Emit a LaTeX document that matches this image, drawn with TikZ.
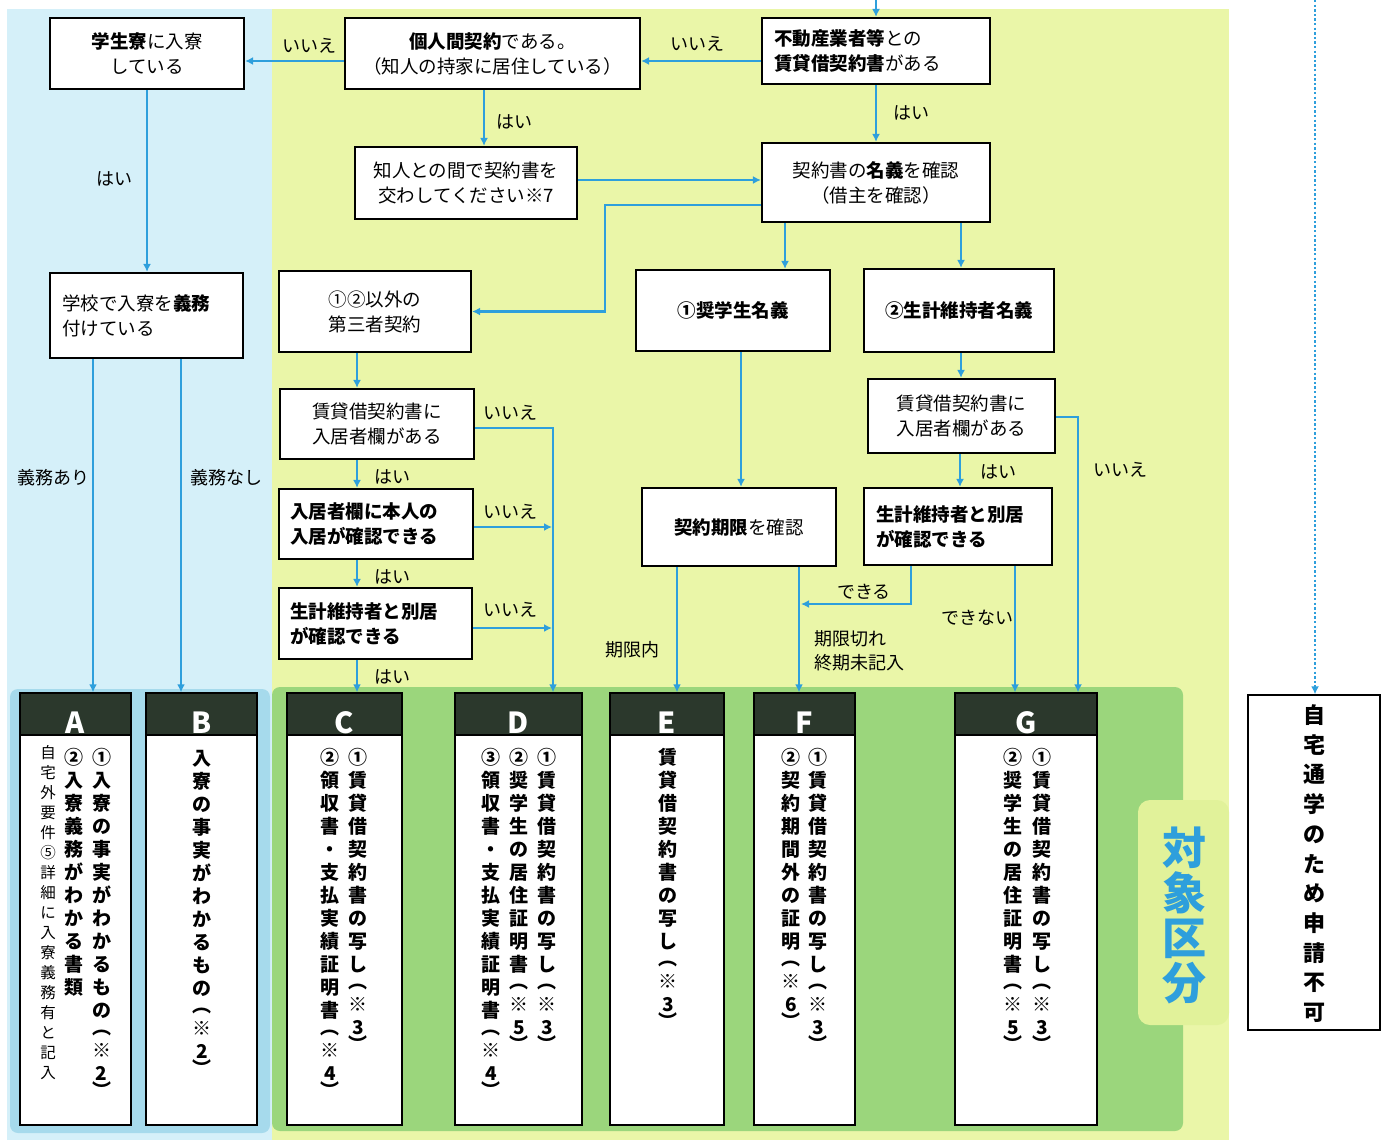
\documentclass[tikz,border=0pt]{standalone}
\usepackage{fontspec}
\setmainfont{Noto Sans CJK JP}
\usetikzlibrary{arrows.meta}
\definecolor{bgblue}{HTML}{D5F0F9}
\definecolor{bgbluedk}{HTML}{A6DAEC}
\definecolor{bgyellow}{HTML}{EAF6A8}
\definecolor{bggreen}{HTML}{9BD67C}
\definecolor{lblyel}{HTML}{E1F29A}
\definecolor{arrowblue}{HTML}{2E9FDC}
\definecolor{hdr}{HTML}{2B382C}
% vertical text
\def\vtx#1#2{\vtop{\baselineskip=#1\lineskiplimit=-1000pt\lineskip=0pt\relax\vtxloop#2\relax}}
\def\vtxloop#1{\ifx\relax#1\else\vtxchar{#1}\expandafter\vtxloop\fi}
\def\vtxchar#1{\ifx#1︵\vskip-6pt\relax\fi\ifx#1︶\vskip-6pt\relax\fi\hbox to 1.2em{\hss#1\hss}}
\tikzset{
  flow/.style={draw=black, line width=2.2pt, fill=white, inner ysep=0pt, inner xsep=12pt, font=\fontsize{18.5}{25}\selectfont},
  bflow/.style={flow, font=\bfseries\fontsize{18.5}{25}\selectfont},
  arr/.style={draw=arrowblue, line width=2.4pt, -{Latex[length=8pt,width=8pt]}},
  dotarr/.style={draw=arrowblue, line width=2.4pt, dash pattern=on 2.4pt off 2.2pt, -{Latex[length=8pt,width=8pt]}},
  lbl/.style={font=\fontsize{18}{24}\selectfont, inner sep=0pt},
  hdrbox/.style={draw=black, line width=1.4pt, fill=hdr, inner sep=0pt},
  bodybox/.style={draw=black, line width=1.4pt, fill=white, inner sep=0pt},
  hletter/.style={text=white, font=\bfseries\fontsize{29}{29}\selectfont, anchor=base, inner sep=0pt},
  vcol/.style={inner sep=0pt, anchor=base, font=\bfseries\fontsize{19}{19}\selectfont},
}
\begin{document}
\begin{tikzpicture}[x=1pt,y=-1pt]
\useasboundingbox (0,0) rectangle (1389,1140);
% backgrounds
\fill[white] (0,0) rectangle (1389,1140);
\fill[bgblue] (7,9) rectangle (272,1140);
\fill[bgyellow] (272,9) rectangle (1229,1140);
\fill[bgbluedk, rounded corners=8pt] (10,689) rectangle (270,1133);
\fill[bggreen, rounded corners=8pt] (272,687) rectangle (1183,1131);
\fill[lblyel, rounded corners=12pt] (1138,800) rectangle (1229,1025);

% flow boxes
\node[flow, minimum width=194pt, minimum height=71pt, text width=170pt, align=center] (N1) at (147,53.5) {{\bfseries 学生寮}に入寮\\している};
\node[flow, minimum width=295pt, minimum height=71pt, text width=271pt, align=center] (N2) at (492.5,53.5) {{\bfseries 個人間契約}である。\\（知人の持家に居住している）};
\node[flow, minimum width=228pt, minimum height=66pt, text width=204pt, align=left] (N3) at (876,51) {{\bfseries 不動産業者等}との\\{\bfseries 賃貸借契約書}がある};
\node[flow, minimum width=222pt, minimum height=72pt, text width=198pt, align=center] (N4) at (466,183) {知人との間で契約書を\\交わしてください※7};
\node[flow, minimum width=228pt, minimum height=79pt, text width=204pt, align=center] (N5) at (876,182.5) {契約書の{\bfseries 名義}を確認\\（借主を確認）};
\node[flow, minimum width=193pt, minimum height=85pt, text width=169pt, align=left] (N6) at (146.5,315.5) {学校で入寮を{\bfseries 義務}\\付けている};
\node[flow, minimum width=192pt, minimum height=81pt, text width=168pt, align=center] (N7) at (375,311.5) {①②以外の\\第三者契約};
\node[bflow, minimum width=194pt, minimum height=81pt, text width=170pt, align=center] (N8) at (733,310.5) {①奨学生名義};
\node[bflow, minimum width=190pt, minimum height=83pt, text width=166pt, align=center] (N9) at (959,310.5) {②生計維持者名義};
\node[flow, minimum width=194pt, minimum height=70pt, text width=170pt, align=center] (N10) at (377,424) {賃貸借契約書に\\入居者欄がある};
\node[bflow, minimum width=194pt, minimum height=70pt, text width=172pt, inner xsep=11pt, align=left] (N11) at (376,524) {入居者欄に本人の\\入居が確認できる};
\node[bflow, minimum width=193pt, minimum height=71pt, text width=171pt, inner xsep=11pt, align=left] (N12) at (375.5,623.5) {生計維持者と別居\\が確認できる};
\node[flow, minimum width=187pt, minimum height=74pt, text width=163pt, align=center] (N13) at (961.5,416) {賃貸借契約書に\\入居者欄がある};
\node[flow, minimum width=194pt, minimum height=78pt, text width=170pt, align=center] (N14) at (739,527) {{\bfseries 契約期限}を確認};
\node[bflow, minimum width=188pt, minimum height=77pt, text width=164pt, align=left] (N15) at (958,526.5) {生計維持者と別居\\が確認できる};

% result columns
\foreach \nm/\cx/\w in {A/75.5/111, B/201.5/111, C/344.5/115, D/518.5/127, E/667/114, F/804.5/101, G/1026/142}{
  \node[bodybox, minimum width=\w pt, minimum height=390pt] (b\nm) at (\cx,930) {};
  \node[hdrbox, minimum width=\w pt, minimum height=42pt] (h\nm) at (\cx,714) {};
  \node[hletter] (t\nm) at (\cx,733) {\nm};
}
\node[bodybox, minimum width=132pt, minimum height=335pt] (RB) at (1314,862.5) {};

% vertical texts
\node[vcol] (A1) at (101.5,764) {\vtx{23pt}{①入寮の事実がわかるもの︵※2︶}};
\node[vcol] (A2) at (74,764) {\vtx{23pt}{②入寮義務がわかる書類}};
\node[vcol, font=\fontsize{15.5}{15.5}\selectfont] (A3) at (48,758) {\vtx{20pt}{自宅外要件⑤詳細に入寮義務有と記入}};
\node[vcol] (B1) at (202,765) {\vtx{23pt}{入寮の事実がわかるもの︵※2︶}};
\node[vcol] (C1) at (358,764) {\vtx{23pt}{①賃貸借契約書の写し︵※3︶}};
\node[vcol] (C2) at (330,764) {\vtx{23pt}{②領収書・支払実績証明書︵※4︶}};
\node[vcol] (D1) at (547,764) {\vtx{23pt}{①賃貸借契約書の写し︵※3︶}};
\node[vcol] (D2) at (519,764) {\vtx{23pt}{②奨学生の居住証明書︵※5︶}};
\node[vcol] (D3) at (491,764) {\vtx{23pt}{③領収書・支払実績証明書︵※4︶}};
\node[vcol] (E1) at (668,764) {\vtx{23pt}{賃貸借契約書の写し︵※3︶}};
\node[vcol] (F1) at (818,764) {\vtx{23pt}{①賃貸借契約書の写し︵※3︶}};
\node[vcol] (F2) at (791,764) {\vtx{23pt}{②契約期間外の証明︵※6︶}};
\node[vcol] (G1) at (1042,764) {\vtx{23pt}{①賃貸借契約書の写し︵※3︶}};
\node[vcol] (G2) at (1013,764) {\vtx{23pt}{②奨学生の居住証明書︵※5︶}};
\node[vcol, font=\bfseries\fontsize{22}{22}\selectfont] (RBt) at (1314,723.5) {\vtx{29.7pt}{自宅通学のため申請不可}};
\node[vcol, font=\bfseries\fontsize{44}{44}\selectfont, text=arrowblue] (TL) at (1184,864) {\vtx{45pt}{対象区分}};

% connectors
\coordinate (ttop) at (876,0);
\coordinate (dtop) at (1315,0);
\draw[arr] (ttop) -- (N3.north);
\draw[dotarr] (dtop) -- (RB.north -| dtop);
\path ([yshift=-10pt]N3.west) coordinate (p1);
\draw[arr] (p1) -- (N2.east |- p1);
\draw[arr] (N3.south) -- (N5.north);
\path ([yshift=-7.5pt]N2.west) coordinate (p2);
\draw[arr] (p2) -- (N1.east |- p2);
\path ([xshift=-8.5pt]N2.south) coordinate (p3);
\draw[arr] (p3) -- (N4.north -| p3);
\path ([yshift=3pt]N4.east) coordinate (p4);
\draw[arr] (p4) -- (N5.west |- p4);
\path ([yshift=-22.5pt]N5.west) coordinate (p5);
\coordinate (k5) at (605,311.5);
\draw[arr] (p5) -| (k5) -- (N7.east);
\path ([xshift=-91pt]N5.south) coordinate (p6);
\draw[arr] (p6) -- (N8.north -| p6);
\path ([xshift=85pt]N5.south) coordinate (p7);
\draw[arr] (p7) -- (N9.north -| p7);
\draw[arr] (N1.south) -- (N6.north -| N1.south);
\path ([xshift=-53.5pt]N6.south) coordinate (p8);
\draw[arr] (p8) -- (hA.north -| p8);
\path ([xshift=34.5pt]N6.south) coordinate (p9);
\draw[arr] (p9) -- (hB.north -| p9);
\path ([xshift=-18pt]N7.south) coordinate (pL);
\draw[arr] (pL) -- (N10.north -| pL);
\draw[arr] (N10.south -| pL) -- (N11.north -| pL);
\draw[arr] (N11.south -| pL) -- (N12.north -| pL);
\draw[arr] (N12.south -| pL) -- (hC.north -| pL);
\path ([yshift=-4pt]N10.east) coordinate (p10);
\coordinate (kD) at (553,428);
\draw[arr] (p10) -- (kD) -- (hD.north -| kD);
\path ([yshift=-3pt]N11.east) coordinate (p11);
\draw[arr] (p11) -- ([xshift=-1pt]kD |- p11);
\path ([yshift=-4.5pt]N12.east) coordinate (p12);
\draw[arr] (p12) -- ([xshift=-1pt]kD |- p12);
\path ([xshift=8pt]N8.south) coordinate (p13);
\draw[arr] (p13) -- (N14.north -| p13);
\path ([xshift=-62pt]N14.south) coordinate (p14);
\draw[arr] (p14) -- (hE.north -| p14);
\path ([xshift=60pt]N14.south) coordinate (p15);
\draw[arr] (p15) -- (hF.north -| p15);
\path ([xshift=2pt]N9.south) coordinate (p16);
\draw[arr] (p16) -- (N13.north -| p16);
\path ([xshift=-1.5pt]N13.south) coordinate (p17);
\draw[arr] (p17) -- (N15.north -| p17);
\path ([yshift=-1pt]N13.east) coordinate (p18);
\coordinate (kG) at (1078,417);
\draw[arr] (p18) -- (kG) -- (hG.north -| kG);
\path ([xshift=-47pt]N15.south) coordinate (p19);
\coordinate (kF) at (801,604);
\draw[arr] (p19) |- (kF);
\path ([xshift=57pt]N15.south) coordinate (p20);
\draw[arr] (p20) -- (hG.north -| p20);

% labels
\node[lbl] (L1) at (697,44) {いいえ};
\node[lbl] (L2) at (911,113) {はい};
\node[lbl] (L3) at (309,46) {いいえ};
\node[lbl] (L4) at (514,122) {はい};
\node[lbl] (L5) at (114,179) {はい};
\node[lbl] (L6) at (53,478) {義務あり};
\node[lbl] (L7) at (226,478) {義務なし};
\node[lbl] (L8) at (392,477) {はい};
\node[lbl] (L9) at (392,577) {はい};
\node[lbl] (L10) at (392,677) {はい};
\node[lbl] (L11) at (510,413) {いいえ};
\node[lbl] (L12) at (510,512) {いいえ};
\node[lbl] (L13) at (510,610) {いいえ};
\node[lbl] (L14) at (1120,470) {いいえ};
\node[lbl] (L15) at (998,472) {はい};
\node[lbl] (L16) at (864,592) {できる};
\node[lbl] (L17) at (977,618) {できない};
\node[lbl] (L18) at (632,650) {期限内};
\node[lbl, anchor=west, align=left] (L19) at (814,651) {期限切れ\\終期未記入};
\end{tikzpicture}
\end{document}
